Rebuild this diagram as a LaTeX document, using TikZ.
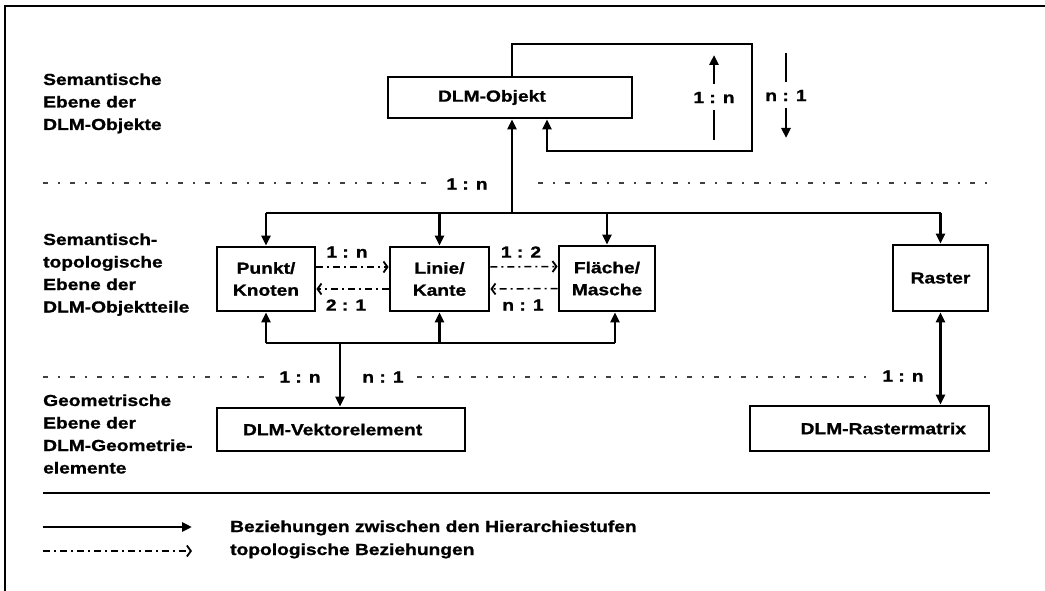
\documentclass[tikz,border=0pt]{standalone}
\usepackage{fontspec}
\setmainfont{Liberation Sans}[FakeStretch=1.2,FakeBold=1]
\usetikzlibrary{arrows.meta}
\tikzset{
  box/.style={draw, line width=2.8pt, inner ysep=0pt, inner xsep=2pt, align=center},
  lbl/.style={anchor=base west, inner sep=0pt},
  ratio/.style={inner sep=1pt},
  solidline/.style={line width=2.8pt},
  conn/.style={line width=2.8pt, -{Triangle[length=10pt,width=9pt]}},
  topo/.style={line width=1.5pt, dash pattern=on 7pt off 4pt on 2pt off 4pt,
    -{Straight Barb[length=4pt,width=11pt,line width=1.8pt]}},
  sepline/.style={line width=1.2pt, black!75, dash pattern=on 5pt off 10pt on 2pt off 10pt}
}
\begin{document}
\begin{tikzpicture}[x=1pt,y=-1pt,font=\bfseries\fontsize{16}{22}\selectfont]
\useasboundingbox (0,0) rectangle (1045,591);
% frame
\draw[line width=2.2pt] (1045,6) -- (5,6) -- (5,591);

% level labels
\node[lbl] (l1a) at (43,85) {Semantische};
\node[lbl] (l1b) at (43,107.5) {Ebene der};
\node[lbl] (l1c) at (43,130) {DLM-Objekte};
\node[lbl] (l2a) at (43,245) {Semantisch-};
\node[lbl] (l2b) at (43,267.5) {topologische};
\node[lbl] (l2c) at (43,290) {Ebene der};
\node[lbl] (l2d) at (43,312.5) {DLM-Objektteile};
\node[lbl] (l3a) at (43,406) {Geometrische};
\node[lbl] (l3b) at (43,428.5) {Ebene der};
\node[lbl] (l3c) at (43,451) {DLM-Geometrie-};
\node[lbl] (l3d) at (43,473.5) {elemente};

% boxes
\node[box, minimum height=41, inner xsep=50, text width=144, align=left] (obj) at (510,97.5) {DLM-Objekt};
\node[box, minimum width=98, minimum height=64] (pk) at (266,279) {Punkt/\\Knoten};
\node[box, minimum width=99, minimum height=64] (li) at (439.5,279) {Linie/\\Kante};
\node[box, minimum width=96, minimum height=65] (fl) at (607,278.5) {Fläche/\\Masche};
\node[box, minimum width=95, minimum height=66] (ras) at (940.5,278) {Raster};
\node[box, minimum height=43, inner xsep=26, text width=196, align=left] (vek) at (341,429.5) {DLM-Vektorelement};
\node[box, minimum height=45, inner xsep=23, text width=193, align=right] (rm) at (869.5,428.5) {DLM-Rastermatrix};

% separation lines
\draw[sepline] (43,183) -- (430,183);
\draw[sepline] (538,183) -- (987,183);
\node[ratio] (s1) at (467,184) {1 : n};
\draw[sepline] (43,377) -- (265,377);
\draw[sepline] (417,377) -- (870,377);
\node[ratio] (s2a) at (300,377) {1 : n};
\node[ratio] (s2b) at (383,377) {n : 1};
\node[ratio] (s2c) at (903,376) {1 : n};

% self loop of DLM-Objekt
\coordinate (lt) at (512,44);
\coordinate (lr) at (752,151);
\coordinate (lb) at (547,151);
\draw[conn] (obj.north -| lt) -- (lt) -| (lr) -| (obj.south -| lb);
\coordinate (a1s) at (714,140);
\coordinate (a1e) at (714,55);
\draw[conn] (a1s) -- node[ratio, fill=white, minimum height=26] (r1) {1 : n} (a1e);
\coordinate (a2s) at (786,53);
\coordinate (a2e) at (786,138);
\draw[conn] (a2s) -- node[ratio, fill=white, minimum height=26] (r2) {n : 1} (a2e);

% upper bus
\coordinate (ubus) at (512,213);
\draw[conn] (ubus) -- (ubus |- obj.south);
\draw[solidline] (pk.north |- ubus) -- (ras.north |- ubus);
\draw[conn] (pk.north |- ubus) -- (pk.north);
\draw[conn] (li.north |- ubus) -- (li.north);
\draw[conn] (fl.north |- ubus) -- (fl.north);
\draw[conn] (ras.north |- ubus) -- (ras.north);

% topological relations
\draw[topo] ([yshift=12pt]pk.east) -- ([yshift=12pt]li.west);
\draw[topo] ([yshift=-10pt]li.west) -- ([yshift=-10pt]pk.east);
\draw[topo] ([yshift=12pt]li.east) -- ([yshift=12pt]fl.west);
\draw[topo] ([yshift=-10pt]fl.west) -- ([yshift=-10pt]li.east);
\node[ratio] (t1) at (347,252) {1 : n};
\node[ratio] (t2) at (346,305) {2 : 1};
\node[ratio] (t3) at (521,252) {1 : 2};
\node[ratio] (t4) at (523,305) {n : 1};

% lower bus
\coordinate (lbus) at (340,343);
\coordinate (flin) at (615,343);
\draw[solidline] (pk.south |- lbus) -- (flin);
\draw[conn] (pk.south |- lbus) -- (pk.south);
\draw[conn] (li.south |- lbus) -- (li.south);
\draw[conn] (flin) -- (flin |- fl.south);
\draw[conn] (lbus) -- (lbus |- vek.north);

% raster - rastermatrix
\draw[conn, {Triangle[length=10pt,width=9pt]}-{Triangle[length=10pt,width=9pt]}] (ras.south) -- (ras.south |- rm.north);

% legend
\draw[line width=2.8pt] (43,493) -- (990,493);
\coordinate (g1s) at (43,527);
\coordinate (g1e) at (192,527);
\draw[conn] (g1s) -- (g1e);
\node[lbl] (g1t) at (230,532) {Beziehungen zwischen den Hierarchiestufen};
\coordinate (g2s) at (43,551);
\coordinate (g2e) at (192,551);
\draw[topo] (g2s) -- (g2e);
\node[lbl] (g2t) at (230,555) {topologische Beziehungen};
\end{tikzpicture}
\end{document}
